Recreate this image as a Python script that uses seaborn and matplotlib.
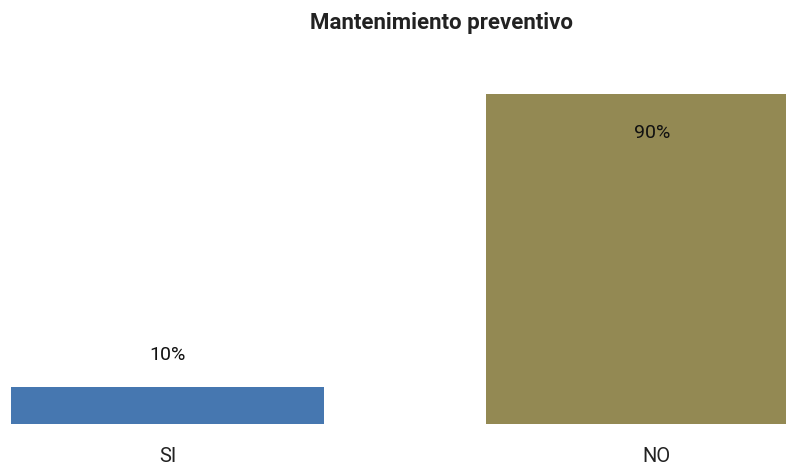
import numpy as np
import pandas as pd
import matplotlib
matplotlib.use("Agg")
import matplotlib.pyplot as plt
import matplotlib.transforms as mtransforms
import seaborn as sns

categories = ['SI', 'NO']
values = [10, 90]
labels = ['10%', '90%']
colors = ['#4677B0', '#938953']

sns.set_style('white')
plt.rcParams['font.family'] = ['Roboto', 'DejaVu Sans']

df = pd.DataFrame({'respuesta': categories, 'valor': values})

fig = plt.figure(figsize=(7.86, 4.68), dpi=100)
ax = fig.add_axes([0, 0.094, 1, 0.778])
sns.barplot(data=df, x='respuesta', y='valor', hue='respuesta',
            palette=colors, width=0.66, saturation=1, legend=False,
            linewidth=0, ax=ax)

ax.set_xlim(-0.3526, 1.302)
ax.set_ylim(0, 99.3)
ax.set_xlabel('')
ax.set_ylabel('')
ax.set_yticks([])
ax.tick_params(axis='x', length=0, pad=16.5, labelsize=14.5, colors='#222222')
sns.despine(ax=ax, left=True, bottom=True)

# el rotulo NO esta un poco a la derecha del centro de la barra
lbl = ax.get_xticklabels()[1]
lbl.set_transform(lbl.get_transform() + mtransforms.ScaledTranslation(14 / 100, 0, fig.dpi_scale_trans))

# etiquetas de datos
ax.annotate(labels[0], (0, values[0]), xytext=(0, 23), textcoords='offset points',
            ha='center', va='center', fontsize=14, color='#111111')
ax.annotate(labels[1], (1, values[1]), xytext=(7, -28), textcoords='offset points',
            ha='center', va='center', fontsize=14, color='#111111')

fig.text(441 / 786, 1 - 23 / 468, 'Mantenimiento preventivo', ha='center', va='center',
         fontsize=16, fontweight='bold', color='#222222')

fig.savefig('out.png', dpi=100)
